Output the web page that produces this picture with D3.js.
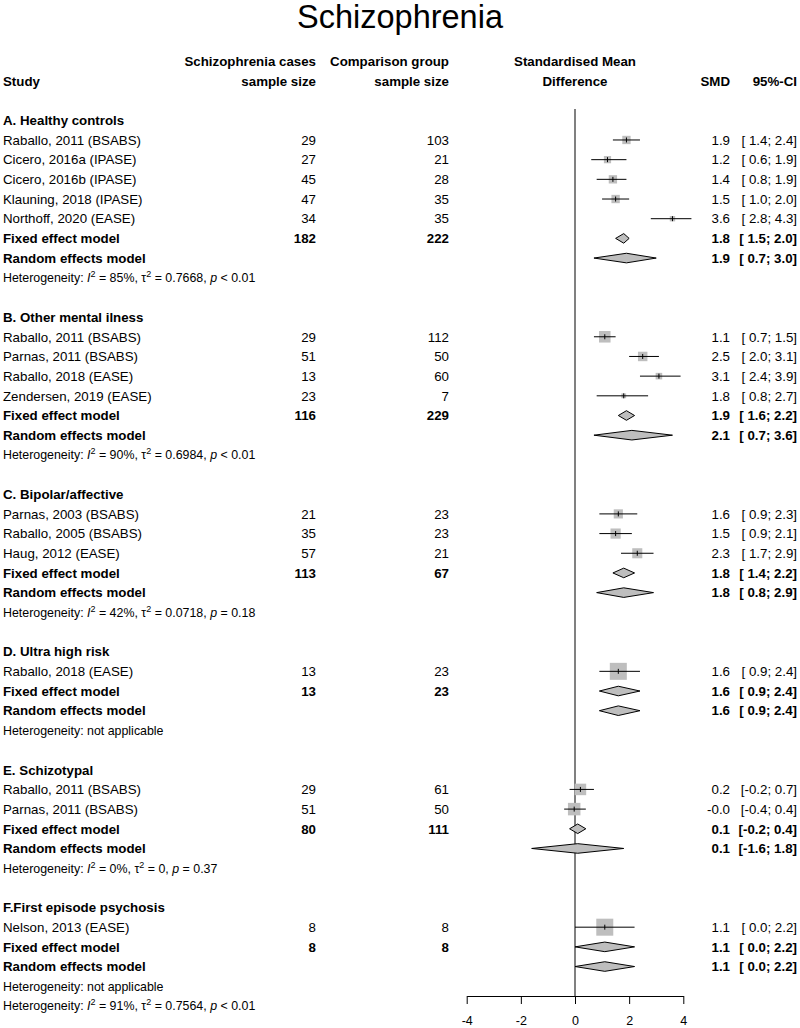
<!DOCTYPE html>
<html>
<head>
<meta charset="utf-8">
<script src="https://cdn.jsdelivr.net/npm/d3@7"></script>
<style>
  html, body { margin: 0; padding: 0; background: #ffffff; }
  svg { display: block; font-family: "Liberation Sans", Arial, Helvetica, sans-serif; }
</style>
</head>
<body>
<svg id="chart" width="800" height="1028"></svg>
<script>
// ---------------- DATA ----------------
const title = "Schizophrenia";
const groupNames = ["A. Healthy controls", "B. Other mental ilness", "C. Bipolar/affective",
  "D. Ultra high risk", "E. Schizotypal", "F.First episode psychosis"];

const studyLabels = ["Raballo, 2011 (BSABS)", "Cicero, 2016a (IPASE)", "Cicero, 2016b (IPASE)",
  "Klauning, 2018 (IPASE)", "Northoff, 2020 (EASE)",
  "Raballo, 2011 (BSABS)", "Parnas, 2011 (BSABS)", "Raballo, 2018 (EASE)", "Zendersen, 2019 (EASE)",
  "Parnas, 2003 (BSABS)", "Raballo, 2005 (BSABS)", "Haug, 2012 (EASE)",
  "Raballo, 2018 (EASE)",
  "Raballo, 2011 (BSABS)", "Parnas, 2011 (BSABS)",
  "Nelson, 2013  (EASE)"];
const studyGroup = [0,0,0,0,0, 1,1,1,1, 2,2,2, 3, 4,4, 5];
const casesN = [29,27,45,47,34, 29,51,13,23, 21,35,57, 13, 29,51, 8];
const compN  = [103,21,28,35,35, 112,50,60,7, 23,23,21, 23, 61,50, 8];
const smd    = [1.9,1.2,1.4,1.5,3.6, 1.1,2.5,3.1,1.8, 1.6,1.5,2.3, 1.6, 0.2,-0.03, 1.1];
const ciLow  = [1.4,0.6,0.8,1.0,2.8, 0.7,2.0,2.4,0.8, 0.9,0.9,1.7, 0.9, -0.2,-0.4, 0.0];
const ciHigh = [2.4,1.9,1.9,2.0,4.3, 1.5,3.1,3.9,2.7, 2.3,2.1,2.9, 2.4, 0.7,0.4, 2.2];
const weightPct = [24,18,24,24,10, 46,31,15,8, 29,36,35, 100, 46,54, 100];

const fixedCases = [182,116,113,13,80,8];
const fixedComp  = [222,229,67,23,111,8];
const fixedSmd   = [1.8,1.9,1.8,1.6,0.1,1.1];
const fixedLow   = [1.5,1.6,1.4,0.9,-0.2,0.0];
const fixedHigh  = [2.0,2.2,2.2,2.4,0.4,2.2];
const randomSmd  = [1.9,2.1,1.8,1.6,0.1,1.1];
const randomLow  = [0.7,0.7,0.8,0.9,-1.6,0.0];
const randomHigh = [3.0,3.6,2.9,2.4,1.8,2.2];
// heterogeneity: [I2, tau2, p] or null = not applicable
const hetI2   = ["85%","90%","42%",null,"0%",null];
const hetTau2 = ["0.7668","0.6984","0.0718",null,"0",null];
const hetP    = ["< 0.01","< 0.01","= 0.18",null,"= 0.37",null];
const overallHet = ["91%","0.7564","< 0.01"];

const axisTicks = [-4,-2,0,2,4];
const axisDomain = [-4,4];

// ---------------- LAYOUT ----------------
const svg = d3.select("#chart");
const FS = 13.3;
const HFS = 12.4;
const font = '"Liberation Sans", Arial, Helvetica, sans-serif';
const xCol = { study: 3, cases: 316, comp: 449, smd: 730, ci: 797 };
const x = d3.scaleLinear().domain(axisDomain).range([466.7, 683.3]);
const y = d3.scaleLinear().domain([0, 1]).range([120.3, 120.3 + 19.68]);
const base = v => y(v) + 0.36 * FS;

const fmt = v => v.toFixed(1);
const fmtCI = (lo, hi) => "[" + (lo < 0 ? "" : " ") + fmt(lo) + "; " + fmt(hi) + "]";

// build row list
const rows = [];
let k = 0;
groupNames.forEach((g, gi) => {
  rows.push({ type: "group", k: k++, label: g });
  studyLabels.forEach((s, i) => {
    if (studyGroup[i] === gi) rows.push({ type: "study", k: k++, i });
  });
  rows.push({ type: "fixed", k: k++, gi });
  rows.push({ type: "random", k: k++, gi });
  rows.push({ type: "het", k: k++, gi });
  if (gi < groupNames.length - 1) k++;
});
rows.push({ type: "overall", k: k++ });

// title
svg.append("text").attr("x", 400).attr("y", 28).attr("text-anchor", "middle")
  .attr("font-size", 32.5).attr("fill", "#000").text(title);

// headers
const hdr = (txt, xx, k, anchor) => svg.append("text").attr("x", xx).attr("y", base(k))
  .attr("text-anchor", anchor).attr("font-weight", "bold").attr("font-size", FS).text(txt);
hdr("Study", xCol.study, -2, "start");
hdr("Schizophrenia cases", xCol.cases, -3, "end");
hdr("sample size", xCol.cases, -2, "end");
hdr("Comparison group", xCol.comp, -3, "end");
hdr("sample size", xCol.comp, -2, "end");
hdr("Standardised Mean", x(0), -3, "middle");
hdr("Difference", x(0), -2, "middle");
hdr("SMD", xCol.smd, -2, "end");
hdr("95%-CI", xCol.ci, -2, "end");

// zero reference line
svg.append("line").attr("x1", x(0)).attr("x2", x(0)).attr("y1", 109).attr("y2", 996)
  .attr("stroke", "#808080").attr("stroke-width", 2);

const txt = (t, xx, k, anchor, bold) => svg.append("text").attr("x", xx).attr("y", base(k))
  .attr("text-anchor", anchor).attr("font-size", FS)
  .attr("font-weight", bold ? "bold" : "normal").attr("fill", "#000").text(t);

const hetText = (k, I2, tau2, p) => {
  const t = svg.append("text").attr("x", xCol.study).attr("y", y(k) + 0.36 * HFS)
    .attr("font-size", HFS).attr("fill", "#000");
  if (I2 === null) { t.text("Heterogeneity: not applicable"); return; }
  t.append("tspan").text("Heterogeneity: ");
  t.append("tspan").attr("font-style", "italic").text("I");
  t.append("tspan").attr("font-size", 9).attr("dy", -5).text("2");
  t.append("tspan").attr("dy", 5).text(" = " + I2 + ", \u03C4");
  t.append("tspan").attr("font-size", 9).attr("dy", -5).text("2");
  t.append("tspan").attr("dy", 5).text(" = " + tau2 + ", ");
  t.append("tspan").attr("font-style", "italic").text("p");
  t.append("tspan").text(" " + p);
};

const boxScale = d3.scaleSqrt().domain([0, 100]).range([0, 17]);
const diamond = (k, est, lo, hi) => {
  const h = 4.8, cy = y(k);
  svg.append("path")
    .attr("d", `M${x(lo)},${cy}L${x(est)},${cy - h}L${x(hi)},${cy}L${x(est)},${cy + h}Z`)
    .attr("fill", "#bebebe").attr("stroke", "#000").attr("stroke-width", 1);
};

rows.forEach(r => {
  if (r.type === "group") {
    txt(r.label, xCol.study, r.k, "start", true);
  } else if (r.type === "study") {
    const i = r.i, cy = y(r.k), s = boxScale(weightPct[i]);
    txt(studyLabels[i], xCol.study, r.k, "start", false);
    txt(String(casesN[i]), xCol.cases, r.k, "end", false);
    txt(String(compN[i]), xCol.comp, r.k, "end", false);
    txt(fmt(smd[i]), xCol.smd, r.k, "end", false);
    txt(fmtCI(ciLow[i], ciHigh[i]), xCol.ci, r.k, "end", false);
    svg.append("rect").attr("x", x(smd[i]) - s / 2).attr("y", cy - s / 2)
      .attr("width", s).attr("height", s).attr("fill", "#bebebe");
    svg.append("line").attr("x1", x(ciLow[i])).attr("x2", x(ciHigh[i]))
      .attr("y1", cy).attr("y2", cy).attr("stroke", "#000").attr("stroke-width", 1);
    svg.append("line").attr("x1", x(smd[i])).attr("x2", x(smd[i]))
      .attr("y1", cy - 2.5).attr("y2", cy + 2.5).attr("stroke", "#000").attr("stroke-width", 1);
  } else if (r.type === "fixed") {
    const g = r.gi;
    txt("Fixed effect model", xCol.study, r.k, "start", true);
    txt(String(fixedCases[g]), xCol.cases, r.k, "end", true);
    txt(String(fixedComp[g]), xCol.comp, r.k, "end", true);
    txt(fmt(fixedSmd[g]), xCol.smd, r.k, "end", true);
    txt(fmtCI(fixedLow[g], fixedHigh[g]), xCol.ci, r.k, "end", true);
    diamond(r.k, fixedSmd[g], fixedLow[g], fixedHigh[g]);
  } else if (r.type === "random") {
    const g = r.gi;
    txt("Random effects model", xCol.study, r.k, "start", true);
    txt(fmt(randomSmd[g]), xCol.smd, r.k, "end", true);
    txt(fmtCI(randomLow[g], randomHigh[g]), xCol.ci, r.k, "end", true);
    diamond(r.k, randomSmd[g], randomLow[g], randomHigh[g]);
  } else if (r.type === "het") {
    const g = r.gi;
    hetText(r.k, hetI2[g], hetTau2[g], hetP[g]);
  } else if (r.type === "overall") {
    hetText(r.k, overallHet[0], overallHet[1], overallHet[2]);
  }
});

// axis
const axis = d3.axisBottom(x).tickValues(axisTicks).tickSize(8).tickSizeOuter(0).tickPadding(12)
  .tickFormat(d3.format("d"));
const ag = svg.append("g").attr("transform", "translate(0,996)").call(axis);
ag.selectAll("text").attr("font-size", 12.5).attr("font-family", font).attr("fill", "#000")
  .text(d => (d < 0 ? "-" : "") + Math.abs(d));
ag.selectAll("path, line").attr("stroke", "#000");
</script>
</body>
</html>
